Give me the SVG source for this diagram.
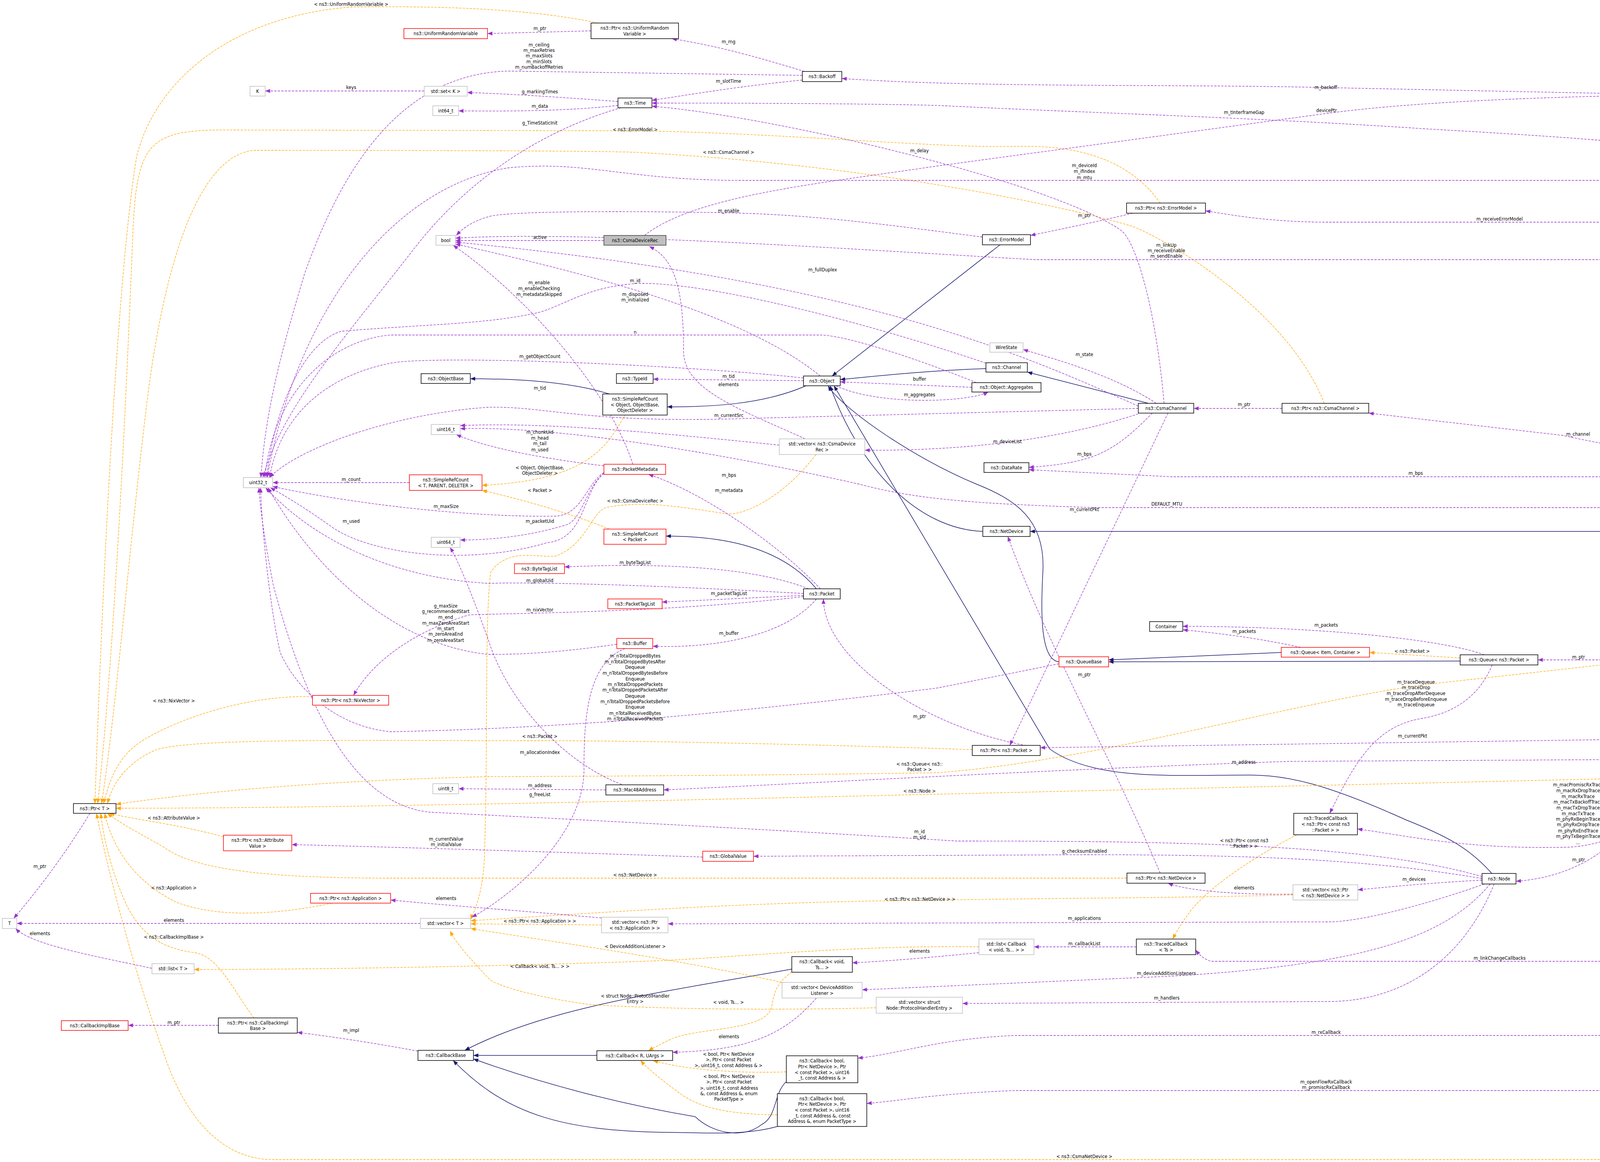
<svg xmlns="http://www.w3.org/2000/svg" width="4975" height="2976" viewBox="0 0 4975 2976">
<style>
text{font-family:"DejaVu Sans Condensed","DejaVu Sans",sans-serif;font-stretch:condensed;font-size:12.5px;fill:#000}
.n rect{fill:#fff;stroke:#000;stroke-width:1.5}
.r rect{stroke:#ff0000}
.g rect{stroke:#bfbfbf}
.s rect{fill:#bfbfbf;stroke:#404040}
.n text{text-anchor:middle}
.l{text-anchor:middle}
.p{fill:none;stroke:#9a32cd;stroke-width:1.3;stroke-dasharray:6,3;marker-end:url(#ap)}
.o{fill:none;stroke:#ffa500;stroke-width:1.3;stroke-dasharray:6,3;marker-end:url(#ao)}
.i{fill:none;stroke:#191970;stroke-width:1.5;marker-end:url(#ai)}
</style>
<defs>
<marker id="ap" viewBox="0 0 10 8" refX="10" refY="4" markerWidth="14" markerHeight="10" markerUnits="userSpaceOnUse" orient="auto"><path d="M0,0L10,4L0,8z" fill="#9a32cd"/></marker>
<marker id="ao" viewBox="0 0 10 8" refX="10" refY="4" markerWidth="14" markerHeight="10" markerUnits="userSpaceOnUse" orient="auto"><path d="M0,0L10,4L0,8z" fill="#ffa500"/></marker>
<marker id="ai" viewBox="0 0 10 8" refX="10" refY="4" markerWidth="14" markerHeight="10" markerUnits="userSpaceOnUse" orient="auto"><path d="M0,0L10,4L0,8z" fill="#191970"/></marker>
</defs>
<rect width="4975" height="2976" fill="#fff"/>
<g id="connectors">
<!-- inheritance -->
<path class="i" d="M1560,1009 C1450,975 1300,970 1204,970"/>
<path class="i" d="M2070,985 C1950,1040 1800,1042 1708,1042"/>
<path class="i" d="M2560,627 L2130,963"/>
<path class="i" d="M2524,944 C2350,950 2200,968 2151,972"/>
<path class="i" d="M2940,1033 L2630,953"/>
<path class="i" d="M2516,1361 C2350,1355 2200,1200 2125,988"/>
<path class="i" d="M2090,1508 C2000,1400 1850,1373 1705,1373"/>
<path class="i" d="M2711,1695 C2660,1690 2665,1550 2670,1460 C2675,1330 2600,1280 2500,1240 C2330,1170 2150,1040 2120,988"/>
<path class="i" d="M3280,1671 L2838,1690"/>
<path class="i" d="M3738,1693 L2838,1695"/>
<path class="i" d="M4520,1312 C4400,1350 4300,1361 4200,1361 L2637,1361"/>
<path class="i" d="M3819,2237 C3760,2170 3700,2140 3600,2100 C3400,2010 3300,1985 3200,1985 C3000,1985 2800,2000 2687,1918 L2135,988"/>
<path class="i" d="M2027,2482 C1700,2540 1400,2580 1190,2690"/>
<path class="i" d="M1528,2703 L1212,2703"/>
<path class="i" d="M2013,2770 C1980,2800 1990,2860 1950,2880 C1900,2920 1820,2900 1780,2860 C1600,2830 1400,2780 1212,2712"/>
<path class="i" d="M1990,2885 C1900,2910 1800,2900 1700,2900 C1450,2895 1300,2860 1160,2716"/>
<!-- orange template -->
<path class="o" d="M1530,59 C1350,20 1100,15 900,18 C600,40 400,200 350,400 C300,700 262,1500 243,2058"/>
<path class="o" d="M2970,520 C2900,420 2780,370 2600,375 C2400,380 2000,340 1626,335 L600,333 C380,330 350,360 340,600 C320,1100 290,1700 250,2058"/>
<path class="o" d="M3390,1033 C3300,800 3000,620 2900,580 C2700,520 2200,420 1626,390 C1500,385 700,385 650,385 C500,400 420,700 380,1000 C330,1400 300,1800 260,2058"/>
<path class="o" d="M1600,1063 C1550,1150 1500,1230 1234,1243"/>
<path class="o" d="M1560,1355 C1450,1310 1300,1270 1234,1256"/>
<path class="o" d="M2089,1164 C2000,1280 1900,1320 1862,1316 C1750,1300 1650,1280 1550,1300 C1510,1320 1500,1395 1423,1424 C1380,1430 1300,1400 1256,1466 C1240,1600 1250,1900 1240,2200 C1235,2300 1210,2340 1205,2355"/>
<path class="o" d="M800,1784 C600,1780 420,1860 360,1900 C300,1940 280,2000 265,2058"/>
<path class="o" d="M2489,1920 C2200,1910 1700,1897 1382,1897 C900,1897 500,1890 400,1920 C330,1950 290,2000 275,2058"/>
<path class="o" d="M4145,1698 L3650,1753 C3300,1800 2800,1950 2400,1979 C2000,1985 1600,1988 1250,1989 C800,2000 500,2030 297,2060"/>
<path class="o" d="M3738,1685 L3506,1671"/>
<path class="o" d="M4141,1994 L2354,2035 C1500,2055 800,2070 297,2070"/>
<path class="o" d="M572,2143 C450,2110 350,2100 280,2083"/>
<path class="o" d="M2885,2249 L1000,2249 C700,2249 500,2230 420,2170 C350,2130 310,2110 275,2083"/>
<path class="o" d="M850,2313 C700,2345 550,2350 450,2310 C350,2260 290,2180 268,2083"/>
<path class="o" d="M650,2607 C600,2540 560,2450 500,2440 C420,2430 370,2400 330,2330 C290,2250 265,2150 258,2083"/>
<path class="o" d="M4850,1312 C4830,1700 4800,2400 4760,2800 C4740,2940 4700,2970 4570,2970 L700,2970 C560,2970 470,2850 420,2700 C330,2450 270,2200 247,2083"/>
<path class="o" d="M1540,2369 L1205,2366"/>
<path class="o" d="M3310,2292 C3000,2300 2700,2300 2350,2306 C1900,2310 1500,2340 1205,2358"/>
<path class="o" d="M2002,2516 C1700,2450 1400,2410 1205,2378"/>
<path class="o" d="M2243,2581 C1900,2590 1600,2580 1503,2572 C1350,2550 1260,2520 1250,2505 C1200,2450 1170,2420 1152,2384"/>
<path class="o" d="M2506,2425 C2200,2420 1900,2450 1700,2460 C1300,2475 800,2483 497,2483"/>
<path class="o" d="M2027,2490 C1980,2520 1980,2560 1975,2580 C1960,2640 1800,2630 1720,2660 C1690,2675 1670,2685 1660,2691"/>
<path class="o" d="M2013,2745 C1900,2750 1750,2740 1672,2716"/>
<path class="o" d="M1990,2855 C1850,2855 1780,2830 1740,2800 C1700,2770 1660,2740 1640,2716"/>
<path class="o" d="M3320,2138 C3200,2200 3100,2270 3050,2330 C3020,2370 3010,2390 3002,2405"/>
<!-- purple usage -->
<path class="p" d="M1513,79 L1248,86"/>
<path class="p" d="M2060,183 C1950,150 1850,120 1720,99"/>
<path class="p" d="M2054,193 L1300,182 C1030,190 880,420 780,700 C720,900 680,1050 668,1223"/>
<path class="p" d="M2054,205 C1900,220 1780,240 1669,257"/>
<path class="p" d="M4520,1286 C4480,900 4440,400 4370,300 C4330,245 4300,241 4200,241 L3380,224 C3000,215 2500,225 2155,201"/>
<path class="p" d="M1086,233 L679,233"/>
<path class="p" d="M1582,260 C1450,250 1300,240 1196,237"/>
<path class="p" d="M1582,270 C1450,285 1300,285 1174,284"/>
<path class="p" d="M1590,276 C1400,330 1200,450 1050,650 C870,880 720,1050 673,1223"/>
<path class="p" d="M4550,1286 C4520,800 4470,430 4400,400 C4300,370 4000,350 3650,330 C3200,300 2800,290 2400,270 C2200,265 1900,264 1669,264"/>
<path class="p" d="M2980,1033 C2960,800 2910,620 2870,590 C2700,470 2000,300 1669,272"/>
<path class="p" d="M1650,603 C1780,500 2100,470 2400,425 L3400,290 C3700,250 4200,241 4571,241 C4700,260 4800,700 4846,1286"/>
<path class="p" d="M4530,1286 C4500,700 4420,462 4250,462 L1900,462 C1600,462 1500,410 1300,430 C1000,480 760,800 684,1223"/>
<path class="p" d="M4536,1286 C4500,800 4400,569 4250,569 L3400,569 C3250,569 3150,550 3086,540"/>
<path class="p" d="M2900,546 C2800,570 2700,590 2638,603"/>
<path class="p" d="M2515,607 C2300,580 2100,550 1862,545 C1600,540 1300,540 1250,555 C1200,570 1180,590 1168,603"/>
<path class="p" d="M1546,616 L1166,616"/>
<path class="p" d="M4540,1286 C4500,900 4400,665 4250,665 L2650,665 C2200,640 1500,590 1166,610"/>
<path class="p" d="M2914,1040 C2600,900 2200,720 1166,620"/>
<path class="p" d="M2100,963 C1900,800 1500,700 1166,625"/>
<path class="p" d="M1620,1189 C1560,1000 1350,760 1160,628"/>
<path class="p" d="M2057,968 C1700,930 1100,910 1000,930 C850,960 720,1050 690,1223"/>
<path class="p" d="M2524,930 C2200,820 1800,720 1630,726 C1500,735 1450,780 1380,800 C1250,830 1100,830 877,848 C780,870 700,1050 683,1223"/>
<path class="p" d="M2500,980 C2300,900 2150,858 2100,858 L1000,858 C850,870 700,1000 678,1223"/>
<path class="p" d="M2057,975 L1672,971"/>
<path class="p" d="M2061,1124 C1900,1050 1750,1000 1750,900 C1750,720 1720,660 1662,631"/>
<path class="p" d="M2488,992 L2151,978"/>
<path class="p" d="M2140,988 C2250,1040 2480,1030 2530,1004"/>
<path class="p" d="M2960,1033 C2850,960 2700,920 2619,895"/>
<path class="p" d="M2914,1046 L1900,1072 C1500,1085 1400,1040 1250,1043 C1000,1060 760,1150 690,1223"/>
<path class="p" d="M2914,1060 C2700,1130 2450,1155 2214,1153"/>
<path class="p" d="M2950,1058 C2850,1160 2800,1185 2634,1197"/>
<path class="p" d="M2990,1058 L2585,1909"/>
<path class="p" d="M3282,1046 L3056,1046"/>
<path class="p" d="M4510,1286 C4450,1180 4300,1180 4000,1115 L3504,1058"/>
<path class="p" d="M4540,1286 C4500,1180 4400,1115 4287,1117"/>
<path class="p" d="M4520,1286 C4450,1230 4300,1221 4200,1221 L3000,1221 L2634,1203"/>
<path class="p" d="M4482,1300 L2800,1300 C2500,1290 2350,1280 2200,1240 C1800,1150 1400,1090 1178,1098"/>
<path class="p" d="M1546,1193 C1350,1170 1230,1140 1168,1113"/>
<path class="p" d="M1995,1140 C1700,1110 1400,1080 1178,1090"/>
<path class="p" d="M1048,1236 L698,1236"/>
<path class="p" d="M1546,1210 C1500,1240 1490,1320 1420,1322 C1200,1325 900,1290 698,1246"/>
<path class="p" d="M1546,1212 C1490,1260 1500,1380 1400,1390 C1200,1450 950,1420 850,1350 C780,1300 730,1270 692,1249"/>
<path class="p" d="M1546,1212 C1500,1250 1490,1330 1450,1344 C1350,1375 1250,1383 1178,1383"/>
<path class="p" d="M2057,1520 C1700,1500 1400,1490 1250,1494 C1000,1480 800,1380 680,1249"/>
<path class="p" d="M1579,1650 C1400,1676 1300,1676 1250,1676 C1000,1650 800,1450 686,1249"/>
<path class="p" d="M1600,2012 C1450,1960 1300,1800 1250,1638 C1200,1500 1170,1430 1152,1402"/>
<path class="p" d="M1551,2023 L1174,2020"/>
<path class="p" d="M1600,1661 C1500,1700 1495,1850 1495,1976 C1490,2150 1300,2300 1208,2349"/>
<path class="p" d="M2057,1528 C1700,1570 1300,1570 1200,1575 C1050,1620 950,1700 905,1781"/>
<path class="p" d="M2070,1508 C1900,1440 1600,1445 1445,1452"/>
<path class="p" d="M2057,1525 L1695,1542"/>
<path class="p" d="M2090,1534 C2000,1640 1800,1660 1671,1655"/>
<path class="p" d="M2100,1508 C2000,1400 1800,1260 1660,1215"/>
<path class="p" d="M2663,1915 C2400,1880 2110,1700 2108,1534"/>
<path class="p" d="M2711,1700 L2400,1762 C2100,1800 1700,1840 1519,1851 C1350,1862 1200,1870 1000,1874 C850,1860 750,1750 717,1670 C690,1550 670,1350 667,1249"/>
<path class="p" d="M3794,2245 C3500,2160 3000,2154 2450,2154 C1900,2120 1300,2090 1100,2080 C900,2060 780,1800 700,1500 C680,1400 665,1300 663,1249"/>
<path class="p" d="M3794,2250 C3500,2200 3200,2189 2776,2189 L1929,2193"/>
<path class="p" d="M1799,2195 C1500,2185 1200,2175 747,2163"/>
<path class="p" d="M3794,2254 C3650,2262 3550,2272 3476,2279"/>
<path class="p" d="M3310,2290 C3200,2292 3050,2285 2990,2262"/>
<path class="p" d="M2970,2236 C2850,1950 2680,1650 2580,1374"/>
<path class="p" d="M3800,2264 C3700,2300 3500,2361 3400,2361 L1710,2366"/>
<path class="p" d="M1540,2351 C1300,2330 1100,2315 1000,2305"/>
<path class="p" d="M1076,2365 L43,2365"/>
<path class="p" d="M389,2480 C250,2450 80,2420 40,2378"/>
<path class="p" d="M230,2083 C160,2200 80,2300 35,2352"/>
<path class="p" d="M559,2626 L328,2626"/>
<path class="p" d="M1070,2692 C950,2670 850,2655 761,2644"/>
<path class="p" d="M2506,2440 C2400,2450 2300,2460 2182,2466"/>
<path class="p" d="M2909,2425 L2647,2425"/>
<path class="p" d="M2090,2556 C2000,2660 1900,2690 1722,2695"/>
<path class="p" d="M3815,2264 C3700,2400 3500,2470 3000,2500 L2207,2535"/>
<path class="p" d="M3825,2264 C3750,2450 3600,2565 3400,2565 L2464,2570"/>
<path class="p" d="M4560,1312 C4520,2000 4400,2462 4200,2462 L3100,2462 C3080,2455 3070,2445 3061,2433"/>
<path class="p" d="M4555,1312 C4480,1900 4250,2170 4000,2170 C3750,2175 3600,2140 3475,2123"/>
<path class="p" d="M3820,1703 C3780,1800 3700,1830 3640,1840 C3520,1860 3470,1950 3404,2083"/>
<path class="p" d="M4550,1312 C4500,1800 4420,2010 4290,2007"/>
<path class="p" d="M4220,2007 C4180,2150 4050,2245 3881,2257"/>
<path class="p" d="M4545,1312 C4480,1750 4350,1893 4200,1893 L2663,1915"/>
<path class="p" d="M4540,1312 C4470,1800 4350,1945 4200,1945 L3300,1950 C2700,1970 2000,2010 1699,2023"/>
<path class="p" d="M4545,1312 L4250,1670"/>
<path class="p" d="M4145,1690 L3937,1690"/>
<path class="p" d="M3800,1677 C3700,1640 3400,1605 3028,1604"/>
<path class="p" d="M3330,1658 C3200,1630 3100,1620 3028,1613"/>
<path class="p" d="M4565,1312 C4540,2300 4450,2652 4200,2652 L2600,2652 C2400,2660 2300,2700 2196,2710"/>
<path class="p" d="M4570,1312 C4550,2500 4450,2793 4200,2793 L2600,2793 C2400,2800 2300,2820 2219,2826"/>
<path class="p" d="M4540,1286 C4500,500 4450,340 4299,340"/>
<path class="p" d="M4731,1299 L4641,1299"/>
</g>
<g id="labels">
<text class="l" x="899" y="15">&lt; ns3::UniformRandomVariable &gt;</text>
<text class="l" x="899" y="228">keys</text>
<text class="l" x="1382" y="77">m_ptr</text>
<text class="l" x="1865" y="111">m_rng</text>
<text class="l" x="1380" y="119">m_ceiling</text>
<text class="l" x="1380" y="133">m_maxRetries</text>
<text class="l" x="1380" y="147">m_maxSlots</text>
<text class="l" x="1380" y="162">m_minSlots</text>
<text class="l" x="1380" y="176">m_numBackoffRetries</text>
<text class="l" x="1865" y="212">m_slotTime</text>
<text class="l" x="1382" y="239">g_markingTimes</text>
<text class="l" x="1382" y="276">m_data</text>
<text class="l" x="1382" y="319">g_TimeStaticInit</text>
<text class="l" x="1626" y="336">&lt; ns3::ErrorModel &gt;</text>
<text class="l" x="1865" y="394">&lt; ns3::CsmaChannel &gt;</text>
<text class="l" x="2354" y="390">m_delay</text>
<text class="l" x="1865" y="544">m_enable</text>
<text class="l" x="1382" y="612">active</text>
<text class="l" x="2106" y="695">m_fullDuplex</text>
<text class="l" x="1380" y="728">m_enable</text>
<text class="l" x="1380" y="743">m_enableChecking</text>
<text class="l" x="1380" y="758">m_metadataSkipped</text>
<text class="l" x="1626" y="723">m_id</text>
<text class="l" x="1626" y="758">m_disposed</text>
<text class="l" x="1626" y="772">m_initialized</text>
<text class="l" x="1626" y="855">n</text>
<text class="l" x="1382" y="917">m_getObjectCount</text>
<text class="l" x="1865" y="968">m_tid</text>
<text class="l" x="1865" y="989">elements</text>
<text class="l" x="2354" y="975">buffer</text>
<text class="l" x="1382" y="998">m_tid</text>
<text class="l" x="3394" y="228">m_backoff</text>
<text class="l" x="3185" y="292">m_tInterframeGap</text>
<text class="l" x="3396" y="287">devicePtr</text>
<text class="l" x="2776" y="428">m_deviceId</text>
<text class="l" x="2776" y="443">m_ifIndex</text>
<text class="l" x="2776" y="459">m_mtu</text>
<text class="l" x="2776" y="556">m_ptr</text>
<text class="l" x="2986" y="632">m_linkUp</text>
<text class="l" x="2986" y="646">m_receiveEnable</text>
<text class="l" x="2986" y="660">m_sendEnable</text>
<text class="l" x="2776" y="912">m_state</text>
<text class="l" x="4396" y="327">m_encapMode</text>
<text class="l" x="3839" y="565">m_receiveErrorModel</text>
<text class="l" x="899" y="1232">m_count</text>
<text class="l" x="1142" y="1301">m_maxSize</text>
<text class="l" x="899" y="1339">m_used</text>
<text class="l" x="1141" y="1556">g_maxSize</text>
<text class="l" x="1141" y="1570">g_recommendedStart</text>
<text class="l" x="1141" y="1585">m_end</text>
<text class="l" x="1141" y="1600">m_maxZeroAreaStart</text>
<text class="l" x="1141" y="1614">m_start</text>
<text class="l" x="1141" y="1628">m_zeroAreaEnd</text>
<text class="l" x="1141" y="1644">m_zeroAreaStart</text>
<text class="l" x="445" y="1799">&lt; ns3::NixVector &gt;</text>
<text class="l" x="2354" y="1015">m_aggregates</text>
<text class="l" x="1866" y="1068">m_currentSrc</text>
<text class="l" x="1382" y="1111">m_chunkUid</text>
<text class="l" x="1382" y="1126">m_head</text>
<text class="l" x="1382" y="1140">m_tail</text>
<text class="l" x="1382" y="1156">m_used</text>
<text class="l" x="1382" y="1202">&lt; Object, ObjectBase,</text>
<text class="l" x="1382" y="1216">ObjectDeleter &gt;</text>
<text class="l" x="1866" y="1221">m_bps</text>
<text class="l" x="1382" y="1260">&lt; Packet &gt;</text>
<text class="l" x="1866" y="1260">m_metadata</text>
<text class="l" x="1626" y="1287">&lt; ns3::CsmaDeviceRec &gt;</text>
<text class="l" x="1382" y="1339">m_packetUid</text>
<text class="l" x="1626" y="1445">m_byteTagList</text>
<text class="l" x="1382" y="1491">m_globalUid</text>
<text class="l" x="1866" y="1524">m_packetTagList</text>
<text class="l" x="1382" y="1566">m_nixVector</text>
<text class="l" x="1866" y="1626">m_buffer</text>
<text class="l" x="1626" y="1684">m_nTotalDroppedBytes</text>
<text class="l" x="1626" y="1699">m_nTotalDroppedBytesAfter</text>
<text class="l" x="1626" y="1713">Dequeue</text>
<text class="l" x="1626" y="1728">m_nTotalDroppedBytesBefore</text>
<text class="l" x="1626" y="1743">Enqueue</text>
<text class="l" x="1626" y="1757">m_nTotalDroppedPackets</text>
<text class="l" x="1626" y="1771">m_nTotalDroppedPacketsAfter</text>
<text class="l" x="1626" y="1787">Dequeue</text>
<text class="l" x="1626" y="1801">m_nTotalDroppedPacketsBefore</text>
<text class="l" x="1626" y="1815">Enqueue</text>
<text class="l" x="1626" y="1831">m_nTotalReceivedBytes</text>
<text class="l" x="1626" y="1845">m_nTotalReceivedPackets</text>
<text class="l" x="2354" y="1839">m_ptr</text>
<text class="l" x="1382" y="1890">&lt; ns3::Packet &gt;</text>
<text class="l" x="1382" y="1931">m_allocationIndex</text>
<text class="l" x="2354" y="1961">&lt; ns3::Queue&lt; ns3::</text>
<text class="l" x="2354" y="1975">Packet &gt; &gt;</text>
<text class="l" x="3185" y="1040">m_ptr</text>
<text class="l" x="2579" y="1135">m_deviceList</text>
<text class="l" x="2776" y="1167">m_bps</text>
<text class="l" x="3624" y="1216">m_bps</text>
<text class="l" x="2987" y="1295">DEFAULT_MTU</text>
<text class="l" x="2776" y="1309">m_currentPkt</text>
<text class="l" x="3395" y="1605">m_packets</text>
<text class="l" x="3185" y="1621">m_packets</text>
<text class="l" x="3615" y="1672">&lt; ns3::Packet &gt;</text>
<text class="l" x="2776" y="1732">m_ptr</text>
<text class="l" x="3625" y="1751">m_traceDequeue</text>
<text class="l" x="3625" y="1765">m_traceDrop</text>
<text class="l" x="3625" y="1780">m_traceDropAfterDequeue</text>
<text class="l" x="3625" y="1795">m_traceDropBeforeEnqueue</text>
<text class="l" x="3625" y="1809">m_traceEnqueue</text>
<text class="l" x="3616" y="1889">m_currentPkt</text>
<text class="l" x="3184" y="1956">m_address</text>
<text class="l" x="4040" y="1116">m_channel</text>
<text class="l" x="4397" y="1112">m_txMachineState</text>
<text class="l" x="4688" y="1296">m_ptr</text>
<text class="l" x="4397" y="1421">m_queue</text>
<text class="l" x="4041" y="1687">m_ptr</text>
<text class="l" x="4397" y="1973">m_node</text>
<text class="l" x="445" y="2099">&lt; ns3::AttributeValue &gt;</text>
<text class="l" x="1142" y="2153">m_currentValue</text>
<text class="l" x="1142" y="2167">m_initialValue</text>
<text class="l" x="102" y="2223">m_ptr</text>
<text class="l" x="445" y="2278">&lt; ns3::Application &gt;</text>
<text class="l" x="1142" y="2305">elements</text>
<text class="l" x="445" y="2361">elements</text>
<text class="l" x="102" y="2395">elements</text>
<text class="l" x="445" y="2404">&lt; ns3::CallbackImplBase &gt;</text>
<text class="l" x="445" y="2623">m_ptr</text>
<text class="l" x="899" y="2643">m_impl</text>
<text class="l" x="1382" y="2016">m_address</text>
<text class="l" x="1382" y="2039">g_freeList</text>
<text class="l" x="2354" y="2030">&lt; ns3::Node &gt;</text>
<text class="l" x="2354" y="2134">m_id</text>
<text class="l" x="2354" y="2148">m_sid</text>
<text class="l" x="1626" y="2245">&lt; ns3::NetDevice &gt;</text>
<text class="l" x="2355" y="2307">&lt; ns3::Ptr&lt; ns3::NetDevice &gt; &gt;</text>
<text class="l" x="1382" y="2363">&lt; ns3::Ptr&lt; ns3::Application &gt; &gt;</text>
<text class="l" x="1626" y="2428">&lt; DeviceAdditionListener &gt;</text>
<text class="l" x="2354" y="2440">elements</text>
<text class="l" x="1382" y="2479">&lt; Callback&lt; void, Ts... &gt; &gt;</text>
<text class="l" x="1626" y="2555">&lt; struct Node::ProtocolHandler</text>
<text class="l" x="1626" y="2569">Entry &gt;</text>
<text class="l" x="1865" y="2571">&lt; void, Ts... &gt;</text>
<text class="l" x="1866" y="2659">elements</text>
<text class="l" x="1865" y="2704">&lt; bool, Ptr&lt; NetDevice</text>
<text class="l" x="1865" y="2718">&gt;, Ptr&lt; const Packet</text>
<text class="l" x="1865" y="2733">&gt;, uint16_t, const Address &amp; &gt;</text>
<text class="l" x="1866" y="2761">&lt; bool, Ptr&lt; NetDevice</text>
<text class="l" x="1866" y="2775">&gt;, Ptr&lt; const Packet</text>
<text class="l" x="1866" y="2791">&gt;, uint16_t, const Address</text>
<text class="l" x="1866" y="2805">&amp;, const Address &amp;, enum</text>
<text class="l" x="1866" y="2819">PacketType &gt;</text>
<text class="l" x="3185" y="2157">&lt; ns3::Ptr&lt; const ns3</text>
<text class="l" x="3185" y="2171">::Packet &gt; &gt;</text>
<text class="l" x="2776" y="2184">g_checksumEnabled</text>
<text class="l" x="3620" y="2256">m_devices</text>
<text class="l" x="3185" y="2278">elements</text>
<text class="l" x="2776" y="2356">m_applications</text>
<text class="l" x="2776" y="2421">m_callbackList</text>
<text class="l" x="2986" y="2497">m_deviceAdditionListeners</text>
<text class="l" x="2987" y="2560">m_handlers</text>
<text class="l" x="3395" y="2648">m_rxCallback</text>
<text class="l" x="3395" y="2775">m_openFlowRxCallback</text>
<text class="l" x="3395" y="2789">m_promiscRxCallback</text>
<text class="l" x="2776" y="2966">&lt; ns3::CsmaNetDevice &gt;</text>
<text class="l" x="4040" y="2014">m_macPromiscRxTrace</text>
<text class="l" x="4040" y="2029">m_macRxDropTrace</text>
<text class="l" x="4040" y="2044">m_macRxTrace</text>
<text class="l" x="4040" y="2058">m_macTxBackoffTrace</text>
<text class="l" x="4040" y="2073">m_macTxDropTrace</text>
<text class="l" x="4040" y="2088">m_macTxTrace</text>
<text class="l" x="4040" y="2102">m_phyRxBeginTrace</text>
<text class="l" x="4040" y="2116">m_phyRxDropTrace</text>
<text class="l" x="4040" y="2132">m_phyRxEndTrace</text>
<text class="l" x="4040" y="2146">m_phyTxBeginTrace</text>
<text class="l" x="4040" y="2162">...</text>
<text class="l" x="4041" y="2206">m_ptr</text>
<text class="l" x="3839" y="2458">m_linkChangeCallbacks</text>
</g>
<g id="n1" class="n r"><rect x="1034" y="73" width="214" height="26"/><text x="1141" y="90">ns3::UniformRandomVariable</text></g>
<g id="n2" class="n g"><rect x="640" y="221" width="39" height="25"/><text x="659.5" y="238">K</text></g>
<g id="n3" class="n g"><rect x="1086" y="221" width="110" height="25"/><text x="1141" y="238">std::set&lt; K &gt;</text></g>
<g id="n4" class="n g"><rect x="1108" y="271" width="66" height="25"/><text x="1141" y="288">int64_t</text></g>
<g id="n5" class="n g"><rect x="1116" y="603" width="50" height="25"/><text x="1141" y="620">bool</text></g>
<g id="n6" class="n"><rect x="1078" y="957" width="126" height="25"/><text x="1141" y="974">ns3::ObjectBase</text></g>
<g id="n7" class="n"><rect x="1513" y="59" width="224" height="40"/><text x="1625" y="76">ns3::Ptr&lt; ns3::UniformRandom</text><text x="1625" y="91">Variable &gt;</text></g>
<g id="n8" class="n"><rect x="2054" y="183" width="101" height="26"/><text x="2104.5" y="200">ns3::Backoff</text></g>
<g id="n9" class="n"><rect x="1582" y="251" width="87" height="25"/><text x="1625.5" y="268">ns3::Time</text></g>
<g id="n10" class="n s"><rect x="1546" y="603" width="159" height="25"/><text x="1625.5" y="620">ns3::CsmaDeviceRec</text></g>
<g id="n11" class="n"><rect x="1578" y="957" width="94" height="25"/><text x="1625" y="974">ns3::TypeId</text></g>
<g id="n12" class="n"><rect x="2057" y="963" width="94" height="25"/><text x="2104" y="980">ns3::Object</text></g>
<g id="n13" class="n"><rect x="2884" y="520" width="202" height="26"/><text x="2985" y="537">ns3::Ptr&lt; ns3::ErrorModel &gt;</text></g>
<g id="n14" class="n"><rect x="2515" y="601" width="123" height="26"/><text x="2576.5" y="618">ns3::ErrorModel</text></g>
<g id="n15" class="n g"><rect x="2534" y="878" width="85" height="24"/><text x="2576.5" y="894">WireState</text></g>
<g id="n16" class="n"><rect x="2524" y="929" width="106" height="24"/><text x="2577" y="945">ns3::Channel</text></g>
<g id="n17" class="n"><rect x="2488" y="980" width="177" height="24"/><text x="2576.5" y="996">ns3::Object::Aggregates</text></g>
<g id="n18" class="n g"><rect x="4150" y="330" width="149" height="25"/><text x="4224.5" y="347">EncapsulationMode</text></g>
<g id="n19" class="n g"><rect x="1104" y="1087" width="74" height="26"/><text x="1141" y="1104">uint16_t</text></g>
<g id="n20" class="n g"><rect x="623" y="1223" width="75" height="26"/><text x="660.5" y="1240">uint32_t</text></g>
<g id="n21" class="n r"><rect x="1048" y="1216" width="186" height="40"/><text x="1141" y="1233">ns3::SimpleRefCount</text><text x="1141" y="1248">&lt; T, PARENT, DELETER &gt;</text></g>
<g id="n22" class="n g"><rect x="1104" y="1376" width="74" height="26"/><text x="1141" y="1393">uint64_t</text></g>
<g id="n23" class="n r"><rect x="800" y="1781" width="195" height="25"/><text x="897.5" y="1798">ns3::Ptr&lt; ns3::NixVector &gt;</text></g>
<g id="n24" class="n"><rect x="1543" y="1009" width="165" height="54"/><text x="1625.5" y="1026">ns3::SimpleRefCount</text><text x="1625.5" y="1041">&lt; Object, ObjectBase,</text><text x="1625.5" y="1055">ObjectDeleter &gt;</text></g>
<g id="n25" class="n g"><rect x="1995" y="1124" width="219" height="40"/><text x="2104.5" y="1141">std::vector&lt; ns3::CsmaDevice</text><text x="2104.5" y="1156">Rec &gt;</text></g>
<g id="n26" class="n r"><rect x="1546" y="1189" width="158" height="26"/><text x="1625" y="1206">ns3::PacketMetadata</text></g>
<g id="n27" class="n r"><rect x="1546" y="1355" width="159" height="39"/><text x="1625.5" y="1372">ns3::SimpleRefCount</text><text x="1625.5" y="1386">&lt; Packet &gt;</text></g>
<g id="n28" class="n r"><rect x="1317" y="1444" width="128" height="25"/><text x="1381" y="1461">ns3::ByteTagList</text></g>
<g id="n29" class="n"><rect x="2057" y="1508" width="94" height="26"/><text x="2104" y="1525">ns3::Packet</text></g>
<g id="n30" class="n r"><rect x="1556" y="1534" width="139" height="25"/><text x="1625.5" y="1551">ns3::PacketTagList</text></g>
<g id="n31" class="n r"><rect x="1579" y="1635" width="92" height="26"/><text x="1625" y="1652">ns3::Buffer</text></g>
<g id="n32" class="n"><rect x="2914" y="1033" width="142" height="25"/><text x="2985" y="1050">ns3::CsmaChannel</text></g>
<g id="n33" class="n"><rect x="3282" y="1033" width="222" height="25"/><text x="3393" y="1050">ns3::Ptr&lt; ns3::CsmaChannel &gt;</text></g>
<g id="n34" class="n"><rect x="2519" y="1185" width="115" height="25"/><text x="2576.5" y="1202">ns3::DataRate</text></g>
<g id="n35" class="n"><rect x="2516" y="1348" width="121" height="26"/><text x="2576.5" y="1365">ns3::NetDevice</text></g>
<g id="n36" class="n"><rect x="2943" y="1592" width="85" height="25"/><text x="2985.5" y="1609">Container</text></g>
<g id="n37" class="n r"><rect x="3280" y="1658" width="226" height="25"/><text x="3393" y="1675">ns3::Queue&lt; Item, Container &gt;</text></g>
<g id="n38" class="n r"><rect x="2711" y="1682" width="127" height="26"/><text x="2774.5" y="1699">ns3::QueueBase</text></g>
<g id="n39" class="n"><rect x="2489" y="1909" width="174" height="26"/><text x="2576" y="1926">ns3::Ptr&lt; ns3::Packet &gt;</text></g>
<g id="n40" class="n g"><rect x="4161" y="1107" width="126" height="25"/><text x="4224" y="1124">TxMachineState</text></g>
<g id="n41" class="n"><rect x="4482" y="1286" width="159" height="26"/><text x="4561.5" y="1303">ns3::CsmaNetDevice</text></g>
<g id="n42" class="n"><rect x="4731" y="1286" width="238" height="26"/><text x="4850" y="1303">ns3::Ptr&lt; ns3::CsmaNetDevice &gt;</text></g>
<g id="n43" class="n"><rect x="3738" y="1677" width="199" height="26"/><text x="3837.5" y="1694">ns3::Queue&lt; ns3::Packet &gt;</text></g>
<g id="n44" class="n"><rect x="4145" y="1670" width="158" height="40"/><text x="4224" y="1687">ns3::Ptr&lt; ns3::Queue</text><text x="4224" y="1702">&lt; ns3::Packet &gt; &gt;</text></g>
<g id="n45" class="n"><rect x="4141" y="1982" width="166" height="25"/><text x="4224" y="1999">ns3::Ptr&lt; ns3::Node &gt;</text></g>
<g id="n46" class="n"><rect x="188" y="2058" width="109" height="25"/><text x="242.5" y="2075">ns3::Ptr&lt; T &gt;</text></g>
<g id="n47" class="n g"><rect x="1108" y="2007" width="66" height="26"/><text x="1141" y="2024">uint8_t</text></g>
<g id="n48" class="n r"><rect x="572" y="2139" width="175" height="40"/><text x="659.5" y="2156">ns3::Ptr&lt; ns3::Attribute</text><text x="659.5" y="2171">Value &gt;</text></g>
<g id="n49" class="n r"><rect x="795" y="2288" width="205" height="25"/><text x="897.5" y="2305">ns3::Ptr&lt; ns3::Application &gt;</text></g>
<g id="n50" class="n g"><rect x="6" y="2352" width="37" height="26"/><text x="24.5" y="2369">T</text></g>
<g id="n51" class="n g"><rect x="1076" y="2352" width="129" height="26"/><text x="1140.5" y="2369">std::vector&lt; T &gt;</text></g>
<g id="n52" class="n g"><rect x="389" y="2468" width="108" height="26"/><text x="443" y="2485">std::list&lt; T &gt;</text></g>
<g id="n53" class="n r"><rect x="157" y="2614" width="171" height="25"/><text x="242.5" y="2631">ns3::CallbackImplBase</text></g>
<g id="n54" class="n"><rect x="559" y="2607" width="202" height="39"/><text x="660" y="2624">ns3::Ptr&lt; ns3::CallbackImpl</text><text x="660" y="2638">Base &gt;</text></g>
<g id="n55" class="n"><rect x="1070" y="2690" width="142" height="26"/><text x="1141" y="2707">ns3::CallbackBase</text></g>
<g id="n56" class="n"><rect x="1551" y="2010" width="148" height="26"/><text x="1625" y="2027">ns3::Mac48Address</text></g>
<g id="n57" class="n r"><rect x="1799" y="2180" width="130" height="26"/><text x="1864" y="2197">ns3::GlobalValue</text></g>
<g id="n58" class="n g"><rect x="1540" y="2349" width="170" height="40"/><text x="1625" y="2366">std::vector&lt; ns3::Ptr</text><text x="1625" y="2381">&lt; ns3::Application &gt; &gt;</text></g>
<g id="n59" class="n"><rect x="2027" y="2450" width="155" height="40"/><text x="2104.5" y="2467">ns3::Callback&lt; void,</text><text x="2104.5" y="2482">Ts... &gt;</text></g>
<g id="n60" class="n g"><rect x="2002" y="2516" width="205" height="40"/><text x="2104.5" y="2533">std::vector&lt; DeviceAddition</text><text x="2104.5" y="2548">Listener &gt;</text></g>
<g id="n61" class="n g"><rect x="2243" y="2554" width="221" height="41"/><text x="2353.5" y="2571">std::vector&lt; struct</text><text x="2353.5" y="2586">Node::ProtocolHandlerEntry &gt;</text></g>
<g id="n62" class="n"><rect x="1528" y="2691" width="194" height="25"/><text x="1625" y="2708">ns3::Callback&lt; R, UArgs &gt;</text></g>
<g id="n63" class="n"><rect x="2013" y="2704" width="183" height="69"/><text x="2104.5" y="2721">ns3::Callback&lt; bool,</text><text x="2104.5" y="2736">Ptr&lt; NetDevice &gt;, Ptr</text><text x="2104.5" y="2751">&lt; const Packet &gt;, uint16</text><text x="2104.5" y="2765">_t, const Address &amp; &gt;</text></g>
<g id="n64" class="n"><rect x="1990" y="2801" width="229" height="84"/><text x="2104.5" y="2818">ns3::Callback&lt; bool,</text><text x="2104.5" y="2832">Ptr&lt; NetDevice &gt;, Ptr</text><text x="2104.5" y="2847">&lt; const Packet &gt;, uint16</text><text x="2104.5" y="2862">_t, const Address &amp;, const</text><text x="2104.5" y="2876">Address &amp;, enum PacketType &gt;</text></g>
<g id="n65" class="n"><rect x="3312" y="2083" width="163" height="55"/><text x="3393.5" y="2100">ns3::TracedCallback</text><text x="3393.5" y="2115">&lt; ns3::Ptr&lt; const ns3</text><text x="3393.5" y="2130">::Packet &gt; &gt;</text></g>
<g id="n66" class="n"><rect x="2885" y="2236" width="200" height="26"/><text x="2985" y="2253">ns3::Ptr&lt; ns3::NetDevice &gt;</text></g>
<g id="n67" class="n g"><rect x="3310" y="2266" width="166" height="39"/><text x="3393" y="2283">std::vector&lt; ns3::Ptr</text><text x="3393" y="2298">&lt; ns3::NetDevice &gt; &gt;</text></g>
<g id="n68" class="n g"><rect x="2506" y="2405" width="141" height="40"/><text x="2576.5" y="2422">std::list&lt; Callback</text><text x="2576.5" y="2437">&lt; void, Ts... &gt; &gt;</text></g>
<g id="n69" class="n"><rect x="2909" y="2405" width="152" height="40"/><text x="2985" y="2422">ns3::TracedCallback</text><text x="2985" y="2437">&lt; Ts &gt;</text></g>
<g id="n70" class="n"><rect x="3794" y="2237" width="87" height="27"/><text x="3837.5" y="2255">ns3::Node</text></g>
</svg>
